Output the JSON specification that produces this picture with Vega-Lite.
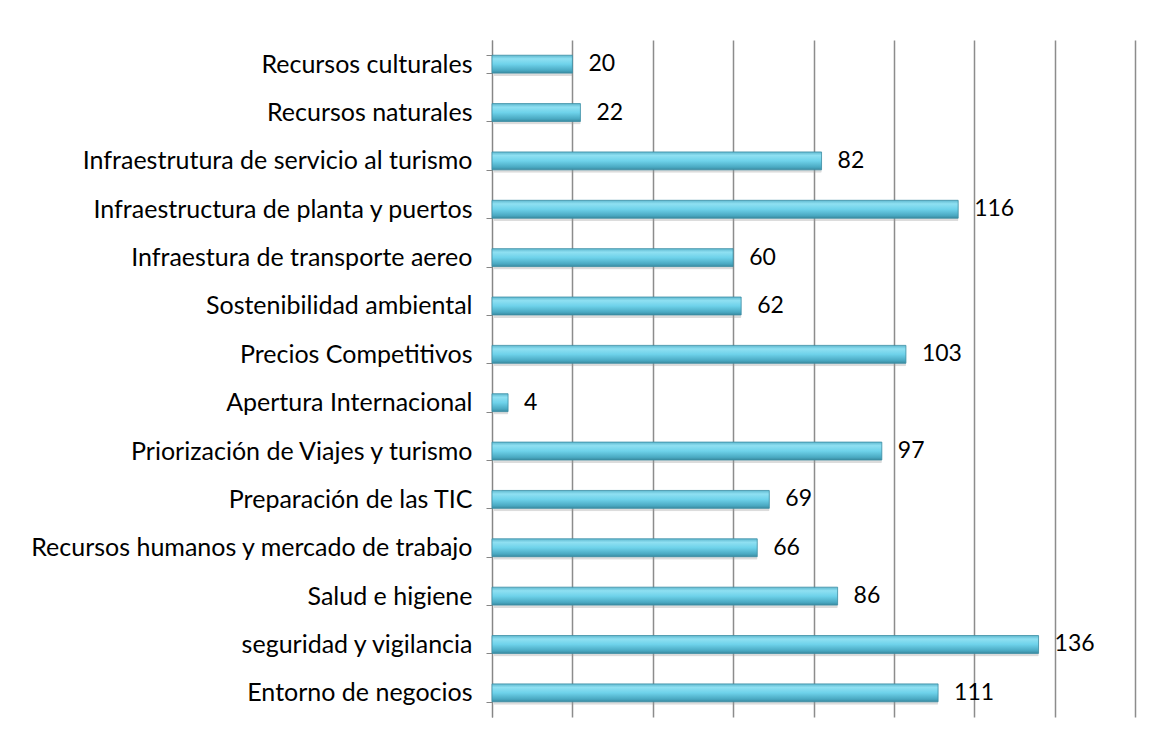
{
  "$schema": "https://vega.github.io/schema/vega-lite/v6.json",
  "width": 643,
  "height": 677,
  "autosize": {"type": "none"},
  "padding": {"left": 492, "top": 40, "right": 16, "bottom": 23},
  "background": "#ffffff",
  "config": {
    "view": {"stroke": null},
    "font": "Lato",
    "axis": {"labelFont": "Lato", "titleFont": "Lato"}
  },
  "data": {
    "values": [
      {"categoria": "Recursos culturales", "valor": 20},
      {"categoria": "Recursos naturales", "valor": 22},
      {"categoria": "Infraestrutura de servicio al turismo", "valor": 82},
      {"categoria": "Infraestructura de planta y puertos", "valor": 116},
      {"categoria": "Infraestura de transporte aereo", "valor": 60},
      {"categoria": "Sostenibilidad ambiental", "valor": 62},
      {"categoria": "Precios Competitivos", "valor": 103},
      {"categoria": "Apertura Internacional", "valor": 4},
      {"categoria": "Priorización de Viajes y turismo", "valor": 97},
      {"categoria": "Preparación de las TIC", "valor": 69},
      {"categoria": "Recursos humanos y mercado de trabajo", "valor": 66},
      {"categoria": "Salud e higiene", "valor": 86},
      {"categoria": "seguridad y vigilancia", "valor": 136},
      {"categoria": "Entorno de negocios", "valor": 111}
    ]
  },
  "encoding": {
    "y": {
      "field": "categoria",
      "type": "nominal",
      "sort": null,
      "scale": {"paddingInner": 0.63, "paddingOuter": 0.315},
      "axis": {
        "title": null,
        "tickBand": "extent",
        "domainColor": "#868686",
        "domainWidth": 1,
        "tickColor": "#868686",
        "tickSize": 6,
        "labelPadding": 14,
        "labelFontSize": 25,
        "labelColor": "#000000",
        "labelLimit": 0,
        "grid": false
      }
    },
    "x": {
      "field": "valor",
      "type": "quantitative",
      "scale": {"domain": [0, 160], "nice": false},
      "axis": {
        "title": null,
        "values": [0, 20, 40, 60, 80, 100, 120, 140, 160],
        "labels": false,
        "ticks": false,
        "domain": false,
        "grid": true,
        "gridColor": "#8c8c8c",
        "gridWidth": 1.5
      }
    }
  },
  "layer": [
    {
      "mark": {"type": "bar", "color": "#9a9a9a", "opacity": 0.35, "yOffset": 3, "xOffset": 2, "cornerRadius": 1}
    },
    {
      "mark": {
        "type": "bar",
        "stroke": "#3b8ea4",
        "strokeWidth": 0.8,
        "color": {
          "gradient": "linear",
          "x1": 0, "y1": 0, "x2": 0, "y2": 1,
          "stops": [
            {"offset": 0, "color": "#5fb8cf"},
            {"offset": 0.2, "color": "#8fe0f2"},
            {"offset": 0.5, "color": "#6ed2ea"},
            {"offset": 0.85, "color": "#4aa9c2"},
            {"offset": 1, "color": "#3a8aa0"}
          ]
        }
      }
    },
    {
      "mark": {"type": "text", "align": "left", "baseline": "middle", "dx": 16, "fontSize": 23, "color": "#000000", "font": "Lato"},
      "encoding": {"text": {"field": "valor", "type": "quantitative"}}
    }
  ]
}
